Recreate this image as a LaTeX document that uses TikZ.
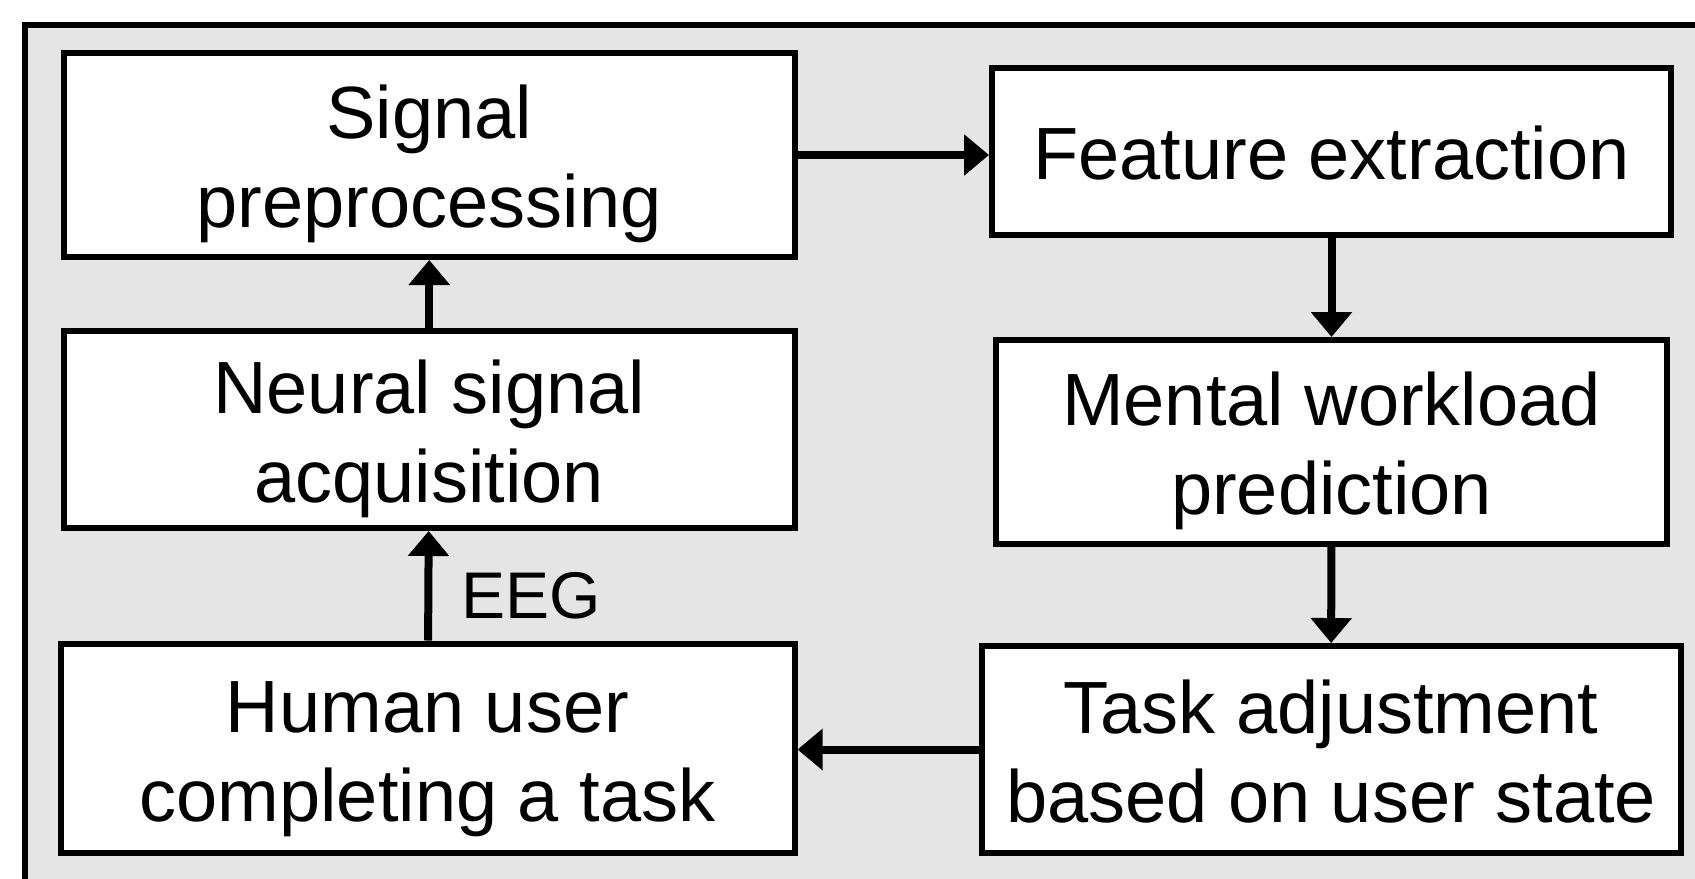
\documentclass[tikz,border=0pt]{standalone}
\usepackage{fontspec}
\setmainfont{Liberation Sans}
\usetikzlibrary{arrows.meta}

\tikzset{
	block/.style={draw, line width=3pt, fill=white, inner sep=0pt,
		align=center, text height=80.5pt, text depth=7.75pt,
		font=\fontsize{37}{44.5}\selectfont},
	oneline/.style={text height=36pt},
	flow/.style={line width=4pt, -{Triangle[length=12.5pt, width=20pt]}},
}

\begin{document}
\begin{tikzpicture}[x=0.5pt, y=-0.5pt]

% frame %{{{2

	\clip (0,0) rectangle (1695,878);
	\draw[line width=3pt, fill=black!10] (25,25) rectangle (1760,940);

% left column %{{{2

	\node[block, minimum width=365.25pt, minimum height=102pt]
		(sig) at (429.25,155) {Signal\\preprocessing};
	\node[block, minimum width=365.25pt, minimum height=98.5pt]
		(neural) at (429.25,429.5) {Neural signal\\acquisition};
	\node[block, minimum width=367pt, minimum height=104.75pt]
		(human) at (427.5,748.25) {Human user\\completing a task};

% right column %{{{2

	\node[block, oneline, minimum width=339.5pt, minimum height=83.5pt]
		(feat) at (1331.5,151.5) {Feature extraction};
	\node[block, minimum width=335.5pt, minimum height=102pt]
		(mental) at (1331.5,442) {Mental workload\\prediction};
	\node[block, minimum width=349.5pt, minimum height=103.5pt]
		(adjust) at (1331,749.5) {Task adjustment\\based on user state};

% arrows %{{{2

	\draw[flow] (human) -- (neural);
	\draw[flow] (neural) -- (sig);
	\draw[flow] (sig.east) -- (sig.east -| feat.west);
	\draw[flow] (feat) -- (mental);
	\draw[flow] (mental) -- (adjust);
	\draw[flow] (adjust.west) -- (adjust.west -| human.east);

	% signal label
	\node[anchor=base west, inner sep=0pt, font=\fontsize{33}{40}\selectfont]
		(eeg) at (461,618) {EEG};

% closing %{{{2

\end{tikzpicture}
\end{document}
